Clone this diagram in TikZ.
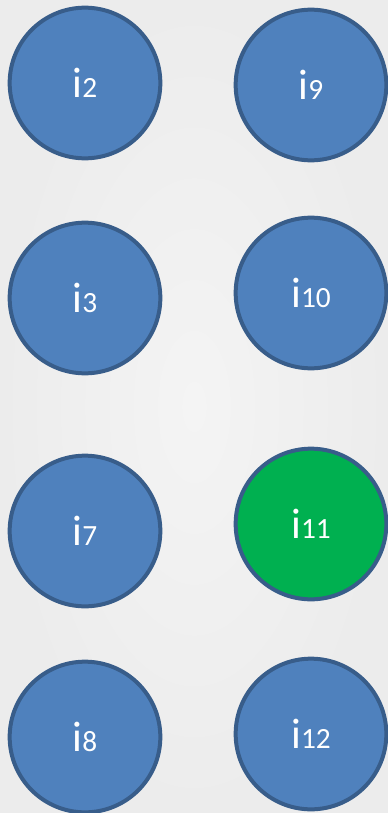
\documentclass[tikz,border=0pt]{standalone}
\usepackage{fontspec}
\setmainfont{Carlito}
\definecolor{bgcolor}{HTML}{F4F4F4}
\definecolor{bgedge}{HTML}{ECECEC}
\definecolor{nodecolor}{HTML}{4F81BD}
\definecolor{rimcolor}{HTML}{385D8A}
\definecolor{pickcolor}{HTML}{00B050}
\newcommand{\idx}[1]{{\fontsize{32}{32}\selectfont i}{\fontsize{22}{22}\selectfont #1}}

\begin{document}
\begin{tikzpicture}[x=0.75pt,y=-0.75pt,
  ball/.style={circle, draw=rimcolor, line width=3pt, fill=nodecolor, minimum size=113pt, inner sep=0pt, text=white},
  chosen/.style={ball, fill=pickcolor}]
  % background
  \shade[inner color=bgcolor, outer color=bgedge] (0,0) rectangle (388,813);
  \useasboundingbox (0,0) rectangle (388,813);
  % left column
  \node[ball] (i2) at (85,83) {\idx{2}};
  \node[ball] (i3) at (85,298) {\idx{3}};
  \node[ball] (i7) at (85,531) {\idx{7}};
  \node[ball] (i8) at (85,737) {\idx{8}};
  % right column
  \node[ball] (i9) at (311,85) {\idx{9}};
  \node[ball] (i10) at (311,293) {\idx{10}};
  \node[chosen] (i11) at (311,524) {\idx{11}};
  \node[ball] (i12) at (311,734) {\idx{12}};
\end{tikzpicture}
\end{document}
